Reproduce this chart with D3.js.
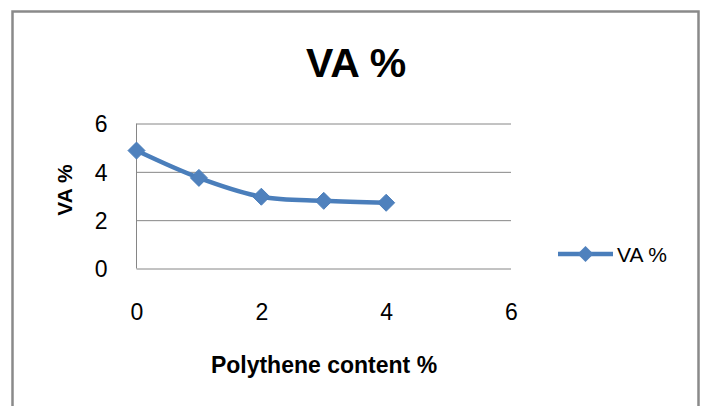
<!DOCTYPE html>
<html>
<head>
<meta charset="utf-8">
<script src="https://cdn.jsdelivr.net/npm/d3@7/dist/d3.min.js"></script>
<style>
  html, body { margin: 0; padding: 0; background: #fff; }
  svg { display: block; font-family: "Liberation Sans", Arial, sans-serif; }
</style>
</head>
<body>
<div id="chart"></div>
<script>
// data
const contents = [0, 1, 2, 3, 4];
const vaPercent = [4.88, 3.75, 2.97, 2.8, 2.72];
const xTicks = [0, 2, 4, 6];
const yTicks = [0, 2, 4, 6];
const seriesName = 'VA %';
const chartTitle = 'VA %';
const xTitle = 'Polythene content %';
const yTitle = 'VA %';

const width = 706, height = 406;
const blue = '#4a7ebb';
const grid = '#868686';
const font = '"Liberation Sans", Arial, sans-serif';

const svg = d3.select('#chart').append('svg')
  .attr('width', width)
  .attr('height', height);

// chart area border
svg.append('rect')
  .attr('x', 12.5).attr('y', 11.5)
  .attr('width', 686).attr('height', 420)
  .attr('fill', '#fff')
  .attr('stroke', '#8a8a8a')
  .attr('stroke-width', 2.5);

const x = d3.scaleLinear().domain([0, 6]).range([136.5, 511]);
const y = d3.scaleLinear().domain([0, 6]).range([268.5, 123.5]);
const fmt = d3.format('d');

// horizontal gridlines + y labels
const yAxis = svg.append('g')
  .attr('transform', `translate(${x(0)},0)`)
  .call(d3.axisLeft(y).tickValues(yTicks).tickFormat(fmt)
    .tickSize(-(x(6) - x(0))).tickPadding(29));
yAxis.attr('font-family', font);
yAxis.select('.domain').remove();
yAxis.selectAll('.tick line').attr('stroke', grid).attr('stroke-width', 1);
yAxis.selectAll('.tick text')
  .attr('fill', '#000')
  .style('font-size', '23px')
  .attr('dy', '0.36em');

// vertical axis line
svg.append('line')
  .attr('x1', x(0)).attr('x2', x(0))
  .attr('y1', y(6)).attr('y2', y(0))
  .attr('stroke', grid).attr('stroke-width', 1);

// x labels
const xAxis = svg.append('g')
  .attr('transform', `translate(0,${y(0)})`)
  .call(d3.axisBottom(x).tickValues(xTicks).tickFormat(fmt)
    .tickSize(0).tickPadding(35));
xAxis.attr('font-family', font);
xAxis.select('.domain').remove();
xAxis.selectAll('.tick text')
  .attr('fill', '#000')
  .style('font-size', '23px');

// series line
const pts = contents.map((c, i) => [c, vaPercent[i]]);
const line = d3.line()
  .x(d => x(d[0]))
  .y(d => y(d[1]))
  .curve(d3.curveCardinal.tension(0));

svg.append('path')
  .datum(pts)
  .attr('d', line)
  .attr('fill', 'none')
  .attr('stroke', blue)
  .attr('stroke-width', 4.5)
  .attr('stroke-linejoin', 'round')
  .attr('stroke-linecap', 'round');

const diamond = h => `M0,${-h}L${h},0L0,${h}L${-h},0Z`;

svg.append('g').selectAll('path')
  .data(pts)
  .join('path')
  .attr('transform', d => `translate(${x(d[0])},${y(d[1])})`)
  .attr('d', diamond(8.5))
  .attr('fill', '#4f81bd')
  .attr('stroke', blue)
  .attr('stroke-width', 1);

// titles
svg.append('text')
  .attr('x', 356).attr('y', 77)
  .attr('text-anchor', 'middle')
  .style('font-size', '41px')
  .style('font-weight', 'bold')
  .text(chartTitle);

svg.append('text')
  .attr('x', 324).attr('y', 373)
  .attr('text-anchor', 'middle')
  .style('font-size', '23px')
  .style('font-weight', 'bold')
  .text(xTitle);

svg.append('text')
  .attr('transform', 'translate(72,190) rotate(-90)')
  .attr('text-anchor', 'middle')
  .style('font-size', '21px')
  .style('font-weight', 'bold')
  .text(yTitle);

// legend
const legend = svg.append('g').attr('transform', 'translate(558,254)');
legend.append('line')
  .attr('x1', 0).attr('x2', 55)
  .attr('stroke', blue).attr('stroke-width', 4.5);
legend.append('path')
  .attr('transform', 'translate(27.5,0)')
  .attr('d', diamond(8))
  .attr('fill', '#4f81bd');
legend.append('text')
  .attr('x', 59).attr('y', 0)
  .attr('dy', '0.36em')
  .style('font-size', '21px')
  .text(seriesName);
</script>
</body>
</html>
